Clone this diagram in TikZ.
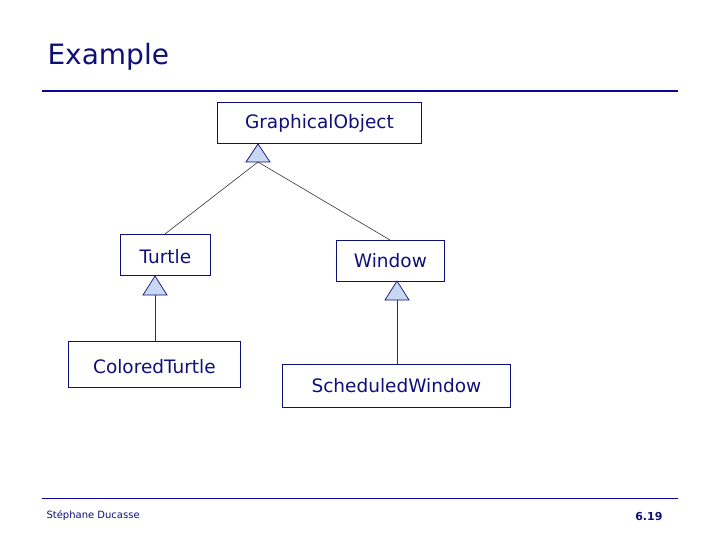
\documentclass[tikz,border=0pt]{standalone}
\usepackage{fontspec}
\setmainfont{DejaVu Sans}
\begin{document}
\begin{tikzpicture}[x=1pt,y=-1pt,
  cls/.style={draw=navyc,line width=0.8pt,inner sep=0pt,anchor=north west},
  lbl/.style={text=navyc,font=\fontsize{18.5}{22}\selectfont},
  tri/.style={draw=navyc,fill=triblue,line width=0.7pt},
  lnk/.style={draw=black!80,line width=0.6pt}]
\definecolor{navyc}{RGB}{15,15,120}
\definecolor{triblue}{RGB}{200,215,242}
\definecolor{rule}{RGB}{10,10,150}
\useasboundingbox (0,0) rectangle (720,540);
\node[anchor=west,text=navyc,font=\fontsize{28}{32}\selectfont] (title) at (44,57) {Example};
\draw[rule,line width=2.5pt] (42,91) coordinate (r1a) -- (678,91) coordinate (r1b);
\draw[rule,line width=0.7pt] (42,498) coordinate (r2a) -- (678,498) coordinate (r2b);
\node[anchor=west,text=navyc,font=\fontsize{10}{12}\selectfont] (auth) at (43,516) {Stéphane Ducasse};
\node[anchor=east,text=navyc,font=\bfseries\fontsize{11}{13}\selectfont] (pg) at (666,516) {6.19};

\node[cls,minimum width=204pt,minimum height=41pt] (go) at (217,102) {};
\node[lbl] at (go.center) {GraphicalObject};
\node[cls,minimum width=90pt,minimum height=41pt] (tu) at (120,234) {};
\node[lbl] at ([yshift=-2pt]tu.center) {Turtle};
\node[cls,minimum width=108pt,minimum height=41pt] (wi) at (336,240) {};
\node[lbl] at (wi.center) {Window};
\node[cls,minimum width=172pt,minimum height=46pt] (ct) at (68,341) {};
\node[lbl] at ([yshift=-2pt]ct.center) {ColoredTurtle};
\node[cls,minimum width=228pt,minimum height=43pt] (sw) at (282,364) {};
\node[lbl] at (sw.center) {ScheduledWindow};

\coordinate (t1) at (258,162);
\coordinate (t2) at (155,295);
\coordinate (t3) at (397,300);
\draw[tri] (258,144) -- (270,162) -- (246,162) -- cycle;
\draw[tri] (155,276) -- (167,295) -- (143,295) -- cycle;
\draw[tri] (397,281) -- (409,300) -- (385,300) -- cycle;
\draw[lnk] (t1) -- (165,234);
\draw[lnk] (t1) -- (390,240);
\draw[lnk] (t2) -- (ct.north -| t2);
\draw[lnk] (t3) -- (sw.north -| t3);
\end{tikzpicture}
\end{document}
